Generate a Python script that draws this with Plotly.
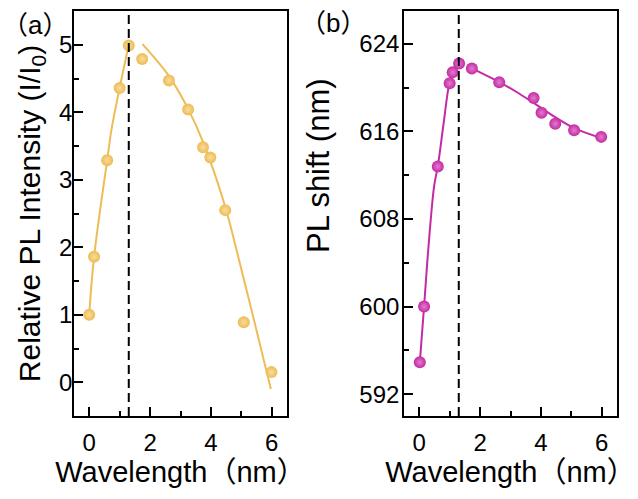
import plotly.graph_objects as go

# ---- data ----
a_x = [0.0, 0.16, 0.59, 1.0, 1.3, 1.74, 2.62, 3.25, 3.74, 3.98, 4.47, 5.08, 5.99]
a_y = [1.0, 1.86, 3.29, 4.36, 4.99, 4.79, 4.47, 4.04, 3.48, 3.33, 2.55, 0.89, 0.15]

fit_a_left_x = [0.0, 0.16, 0.59, 0.73, 1.0, 1.28]
fit_a_left_y = [1.0, 1.86, 3.29, 3.74, 4.36, 4.96]
fit_a_right_x = [1.75, 2.6, 3.25, 3.75, 4.47, 4.83, 5.4, 5.97]
fit_a_right_y = [5.01, 4.55, 4.05, 3.55, 2.6, 1.98, 0.95, -0.1]

b_x = [0.02, 0.16, 0.61, 1.0, 1.1, 1.31, 1.73, 2.63, 3.76, 4.02, 4.47, 5.09, 5.98]
b_y = [594.9, 600.0, 612.8, 620.4, 621.4, 622.2, 621.75, 620.5, 619.05, 617.7, 616.7, 616.1, 615.5]

fit_b_left_x = [0.02, 0.16, 0.3, 0.49, 0.61, 0.8, 0.99, 1.1, 1.31]
fit_b_left_y = [594.9, 600.0, 605.3, 611.0, 612.8, 616.7, 620.4, 621.3, 622.2]
fit_b_right_x = [1.73, 2.63, 3.2, 3.76, 4.47, 5.09, 5.98]
fit_b_right_y = [621.75, 620.5, 619.6, 618.6, 617.3, 616.3, 615.4]

divider_x = 1.3

x_ticks = [0, 2, 4, 6]
a_ticks = [0, 1, 2, 3, 4, 5]
b_ticks = [592, 600, 608, 616, 624]

GOLD = "#EDBC55"
GOLD_LT = "#F8DC9C"
MAG = "#C42AA3"
MAG_LT = "#E27CCB"
FONT = "Arial, Liberation Sans, Noto Sans CJK SC"

fig = go.Figure()

def add_panel(fig, xs, ys, fl, fr, color, light, xa, ya):
    for fx, fy in (fl, fr):
        fig.add_trace(go.Scatter(x=fx, y=fy, mode="lines", line=dict(color=color, width=2, shape="spline"),
                                 xaxis=xa, yaxis=ya, showlegend=False, hoverinfo="skip"))
    fig.add_trace(go.Scatter(x=xs, y=ys, mode="markers",
                             marker=dict(size=12, color=color, line=dict(width=0),
                                         gradient=dict(type="radial", color=light)),
                             xaxis=xa, yaxis=ya, showlegend=False))

add_panel(fig, a_x, a_y, (fit_a_left_x, fit_a_left_y), (fit_a_right_x, fit_a_right_y), GOLD, GOLD_LT, "x", "y")
add_panel(fig, b_x, b_y, (fit_b_left_x, fit_b_left_y), (fit_b_right_x, fit_b_right_y), MAG, MAG_LT, "x2", "y2")

for xr, yr in (("x", "y domain"), ("x2", "y2 domain")):
    fig.add_shape(type="line", xref=xr, yref=yr, x0=divider_x, x1=divider_x, y0=0, y1=1,
                  line=dict(color="black", width=2, dash="9px,5px"))

ydom = [1 - 416 / 499, 1 - 11 / 499]
common = dict(showgrid=False, zeroline=False, showline=True, linecolor="black", linewidth=1.6,
              mirror=True, ticks="inside", ticklen=9, tickwidth=1.5, tickcolor="black",
              tickfont=dict(family=FONT, size=24, color="black"))
xcommon = dict(common, range=[-0.5, 6.5], tickvals=x_ticks, ticklabelstandoff=4,
               minor=dict(dtick=1, tick0=0, ticks="inside", ticklen=5, tickwidth=1.5, tickcolor="black"),
               title=dict(text="Wavelength（nm）", font=dict(family=FONT, size=29, color="black"), standoff=5))

fig.update_layout(
    width=638, height=499, margin=dict(l=0, r=0, t=0, b=0),
    paper_bgcolor="white", plot_bgcolor="white",
    xaxis=dict(xcommon, domain=[74 / 638, 287 / 638], anchor="y"),
    xaxis2=dict(xcommon, domain=[404 / 638, 617 / 638], anchor="y2"),
    yaxis=dict(common, domain=ydom, anchor="x", range=[-0.5, 5.5], tickvals=a_ticks,
               minor=dict(dtick=0.5, tick0=0, ticks="inside", ticklen=5, tickwidth=1.5, tickcolor="black"),
               ticklabelstandoff=-5,
               title=dict(text="Relative PL Intensity (I/I<sub>0</sub>)",
                          font=dict(family=FONT, size=30, color="black"), standoff=10)),
    yaxis2=dict(common, domain=ydom, anchor="x2", range=[590, 627], tickvals=b_ticks,
                minor=dict(dtick=4, tick0=592, ticks="inside", ticklen=5, tickwidth=1.5, tickcolor="black"),
                ticklabelstandoff=-2),
    annotations=[
        dict(text="（a）", x=0, y=1 - 25 / 499, xref="paper", yref="paper", xanchor="left", yanchor="middle",
             showarrow=False, font=dict(family=FONT, size=26, color="black")),
        dict(text="（b）", x=298 / 638, y=1 - 23 / 499, xref="paper", yref="paper", xanchor="left", yanchor="middle",
             showarrow=False, font=dict(family=FONT, size=26, color="black")),
        dict(text="PL shift (nm)", textangle=-90, x=318 / 638, y=1 - 166 / 499, xref="paper", yref="paper",
             xanchor="center", yanchor="middle", showarrow=False,
             font=dict(family=FONT, size=31, color="black")),
    ],
)

fig.write_html("out.html")
